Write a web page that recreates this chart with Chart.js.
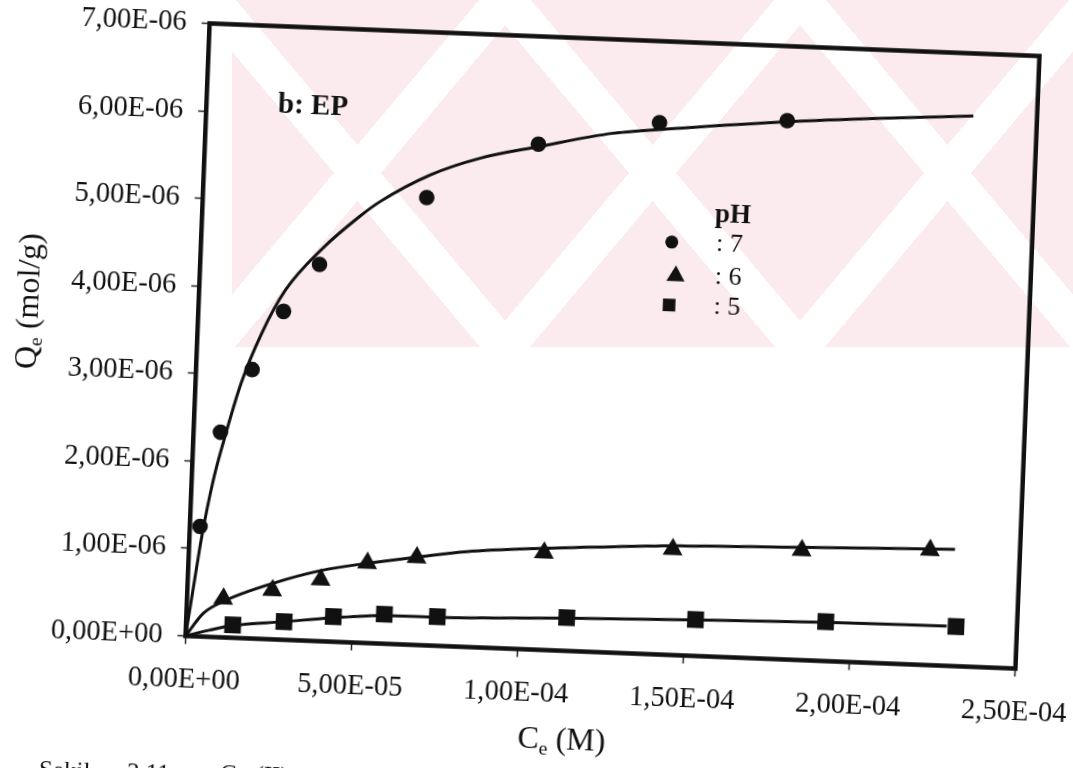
<!DOCTYPE html>
<html lang="tr">
<head>
<meta charset="utf-8">
<title>Qe - Ce (EP)</title>
<script src="https://cdn.jsdelivr.net/npm/chart.js@4.4.1/dist/chart.umd.min.js"></script>
<style>
  html, body { margin: 0; padding: 0; width: 1073px; height: 768px; overflow: hidden; background: #fff; }
  #filigran {
    position: absolute; left: 232px; top: 0; width: 841px; height: 347px;
    background:
      repeating-linear-gradient(50deg, rgba(255,255,255,0) 0 190px, #fff 190px 226px),
      repeating-linear-gradient(-50deg, rgba(255,255,255,0) 0 190px, #fff 190px 226px),
      #fcebee;
  }
  /* the printed page is slightly turned */
  #sayfa {
    position: absolute; left: 0; top: 0; width: 1150px; height: 820px;
    transform-origin: 612.5px 346px; transform: rotate(2.25deg);
  }
  #grafik { display: block; }
  .alt { position: absolute; top: 779px; font: 25px 'Liberation Serif', 'Times New Roman', serif; line-height: 1; color: #111; white-space: nowrap; }
</style>
</head>
<body>
<div id="filigran"></div>
<div id="sayfa">
  <canvas id="grafik" width="1150" height="820"></canvas>
  <div class="alt" style="left:56px">Şekil</div>
  <div class="alt" style="left:144px; top:778px">3.11.</div>
  <div class="alt" style="left:237px; top:776px">Cu (II)</div>
</div>
<script>
// eksen etiketleri
const xTickValues = [0, 5e-5, 1e-4, 1.5e-4, 2e-4, 2.5e-4];
const xTickLabels = ['0,00E+00', '5,00E-05', '1,00E-04', '1,50E-04', '2,00E-04', '2,50E-04'];
const yTickValues = [0, 1e-6, 2e-6, 3e-6, 4e-6, 5e-6, 6e-6, 7e-6];
const yTickLabels = ['0,00E+00', '1,00E-06', '2,00E-06', '3,00E-06', '4,00E-06', '5,00E-06', '6,00E-06', '7,00E-06'];

// deney noktalari (Ce, Qe)
const ce7 = [3.07e-6, 8.09e-6, 1.688e-5, 2.564e-5, 3.591e-5, 6.737e-5, 1.0034e-4, 1.365e-4, 1.749e-4];
const qe7 = [1.256e-6, 2.34e-6, 3.07e-6, 3.747e-6, 4.30e-6, 5.11e-6, 5.77e-6, 6.07e-6, 6.15e-6];
const ce6 = [1.093e-5, 2.557e-5, 4.0e-5, 5.382e-5, 6.861e-5, 1.0685e-4, 1.4552e-4, 1.8434e-4, 2.2293e-4];
const qe6 = [4.42e-7, 5.60e-7, 7.03e-7, 9.14e-7, 9.99e-7, 1.111e-6, 1.208e-6, 1.254e-6, 1.312e-6];
const ce5 = [1.407e-5, 2.946e-5, 4.423e-5, 5.954e-5, 7.551e-5, 1.1445e-4, 1.5321e-4, 1.924e-4, 2.3164e-4];
const qe5 = [1.47e-7, 2.07e-7, 2.87e-7, 3.37e-7, 3.33e-7, 3.80e-7, 4.15e-7, 4.50e-7, 4.52e-7];

// model egrileri
const fitCe7 = [0, 1.80e-6, 3.70e-6, 6.52e-6, 9.21e-6, 1.371e-5, 1.934e-5, 2.599e-5, 3.648e-5, 4.723e-5, 5.337e-5, 6.809e-5, 8.293e-5, 1.0033e-4, 1.2273e-4, 1.4274e-4, 1.7493e-4, 2.0277e-4, 2.3082e-4];
const fitQe7 = [0, 5.6e-7, 1.140e-6, 1.792e-6, 2.246e-6, 2.906e-6, 3.488e-6, 3.993e-6, 4.477e-6, 4.859e-6, 5.043e-6, 5.369e-6, 5.583e-6, 5.741e-6, 5.928e-6, 6.015e-6, 6.138e-6, 6.219e-6, 6.286e-6];
const fitCe6 = [0, 5.09e-6, 1.146e-5, 2.579e-5, 3.989e-5, 5.382e-5, 6.861e-5, 8.359e-5, 1.068e-4, 1.2865e-4, 1.4768e-4, 1.843e-4, 2.3043e-4];
const fitQe6 = [0, 2.67e-7, 4.20e-7, 6.41e-7, 8.06e-7, 9.11e-7, 1.002e-6, 1.088e-6, 1.161e-6, 1.212e-6, 1.249e-6, 1.288e-6, 1.334e-6];
const fitCe5 = [0, 7.30e-6, 1.408e-5, 2.946e-5, 4.424e-5, 5.956e-5, 7.552e-5, 1.1445e-4, 1.5306e-4, 1.924e-4, 2.2884e-4];
const fitQe5 = [0, 7.9e-8, 1.39e-7, 2.07e-7, 2.75e-7, 3.21e-7, 3.26e-7, 3.73e-7, 4.11e-7, 4.43e-7, 4.55e-7];

const phLabels = [': 7', ': 6', ': 5'];

const SERIF = "'Liberation Serif', 'Times New Roman', serif";
const INK = '#111';

const pts = (xs, ys) => xs.map((x, i) => ({ x: x, y: ys[i] }));

function egri(xs, ys) {
    return {
        data: pts(xs, ys), showLine: true, pointRadius: 0,
        borderColor: INK, borderWidth: 3, cubicInterpolationMode: 'monotone'
    };
}
function nokta(xs, ys, stil, r) {
    return {
        data: pts(xs, ys), showLine: false, pointStyle: stil, pointRadius: r,
        backgroundColor: INK, borderColor: INK, borderWidth: 0
    };
}

// markers for the hand-made legend
function isaret(ctx, stil, x, y, r) {
    ctx.beginPath();
    if (stil === 'circle') {
        ctx.arc(x, y, r, 0, Math.PI * 2);
    } else if (stil === 'triangle') {
        for (let k = 0; k < 3; k++) {
            const a = k * 2 * Math.PI / 3;
            ctx[k ? 'lineTo' : 'moveTo'](x + Math.sin(a) * r, y - Math.cos(a) * r);
        }
        ctx.closePath();
    } else {
        ctx.rect(x - r, y - r, 2 * r, 2 * r);
    }
    ctx.fill();
}

// text with a subscript part, centred on x
function altYazi(ctx, parcalar, x, y, boy) {
    const olc = p => { ctx.font = (p[1] ? boy * 0.62 : boy) + 'px ' + SERIF; return ctx.measureText(p[0]).width; };
    const toplam = parcalar.reduce((s, p) => s + olc(p), 0);
    let cx = x - toplam / 2;
    ctx.textAlign = 'left';
    ctx.textBaseline = 'alphabetic';
    parcalar.forEach(p => {
        const w = olc(p);
        ctx.fillText(p[0], cx, y + (p[1] ? boy * 0.18 : 0));
        cx += w;
    });
}

const cerceve = {
    id: 'cerceve',
    afterDatasetsDraw(chart) {
        const { ctx, chartArea: a } = chart;
        ctx.save();
        ctx.strokeStyle = INK;
        ctx.lineWidth = 4.5;
        ctx.strokeRect(a.left, a.top, a.right - a.left, a.bottom - a.top);

        ctx.fillStyle = INK;
        ctx.textBaseline = 'middle';
        ctx.textAlign = 'center';
        ctx.font = 'bold 29px ' + SERIF;
        ctx.fillText('b: EP', a.left + 106.6, a.top + 79.4);

        // legend
        ctx.font = 'bold 27px ' + SERIF;
        ctx.fillText('pH', a.left + 530.5, a.top + 171.9);
        const stiller = [['circle', 6.5, 470.4], ['triangle', 10.5, 475.6], ['rect', 6.3, 470.2]];
        const satirlar = [200.3, 234, 263.3];
        ctx.font = '26px ' + SERIF;
        ctx.textAlign = 'left';
        stiller.forEach((s, i) => {
            isaret(ctx, s[0], a.left + s[2], a.top + satirlar[i], s[1]);
            ctx.fillText(phLabels[i], a.left + 514.7, a.top + satirlar[i]);
        });

        // axis titles
        altYazi(ctx, [['C', false], ['e', true], [' (M)', false]], 577, 751, 32);
        ctx.translate(36.5, 324);
        ctx.rotate(-Math.PI / 2);
        altYazi(ctx, [['Q', false], ['e', true], [' (mol/g)', false]], 0, 0, 32);
        ctx.restore();
    }
};

const eksenYazi = { family: SERIF, size: 28.5 };
const tikIzgara = { display: true, drawOnChartArea: false, drawTicks: true, tickLength: 8, tickColor: '#222', tickWidth: 1.5 };

new Chart(document.getElementById('grafik'), {
    type: 'scatter',
    data: {
        datasets: [
            egri(fitCe7, fitQe7),
            egri(fitCe6, fitQe6),
            egri(fitCe5, fitQe5),
            nokta(ce7, qe7, 'circle', 7.8),
            nokta(ce6, qe6, 'triangle', 11.5),
            nokta(ce5, qe5, 'rect', 11.8)
        ]
    },
    options: {
        responsive: false,
        devicePixelRatio: 1,
        animation: false,
        layout: { padding: { top: 39.5, right: 122.25, left: 0, bottom: 0 } },
        plugins: { legend: { display: false }, tooltip: { enabled: false } },
        scales: {
            x: {
                type: 'linear', min: 0, max: 2.5e-4,
                afterBuildTicks: s => { s.ticks = xTickValues.map(v => ({ value: v })); },
                afterFit: s => { s.height = 167.5; },
                ticks: { color: INK, font: eksenYazi, padding: 19, maxRotation: 0, callback: (v, i) => xTickLabels[i] },
                grid: tikIzgara,
                border: { display: false }
            },
            y: {
                type: 'linear', min: 0, max: 7e-6,
                afterBuildTicks: s => { s.ticks = yTickValues.map(v => ({ value: v })); },
                afterFit: s => { s.width = 197.25; },
                ticks: { color: INK, font: eksenYazi, padding: 15, callback: (v, i) => yTickLabels[i] },
                grid: tikIzgara,
                border: { display: false }
            }
        }
    },
    plugins: [cerceve]
});
</script>
</body>
</html>
